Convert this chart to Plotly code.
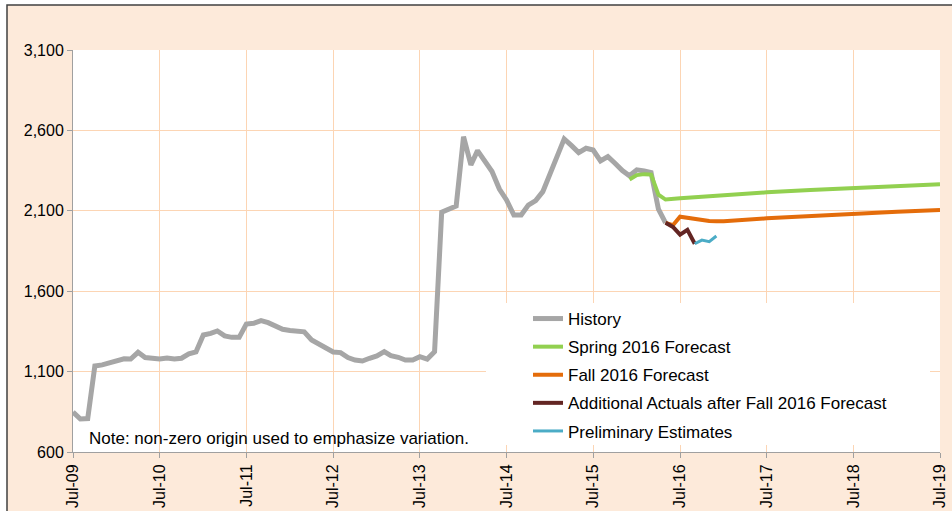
import plotly.graph_objects as go

# monthly history, Jul-2009 .. May-2016
history = [
    849, 805, 808, 1135, 1142, 1152, 1168, 1180, 1178, 1220, 1187, 1180,
    1178, 1185, 1178, 1183, 1210, 1222, 1328, 1338, 1353, 1322, 1313, 1313,
    1396, 1400, 1417, 1404, 1382, 1363, 1356, 1355, 1347, 1297, 1272, 1250,
    1222, 1218, 1187, 1172, 1166, 1183, 1198, 1224, 1199, 1189, 1172, 1172,
    1193, 1178, 1224, 2092, 2110, 2130, 2561, 2385, 2474, 2406, 2344, 2235,
    2168, 2074, 2074, 2136, 2163, 2219, 2333, 2440, 2547, 2505, 2462, 2489,
    2478, 2410, 2437, 2396, 2350, 2318, 2355, 2348, 2338, 2110, 2025,
]

spring_dates = ["2015-12-01", "2016-01-01", "2016-02-01", "2016-03-01", "2016-04-01",
                "2016-05-01", "2016-07-01", "2017-01-01", "2017-07-01", "2018-01-01",
                "2018-07-01", "2019-01-01", "2019-07-01"]
spring = [2295, 2322, 2328, 2325, 2200, 2170, 2178, 2198, 2215, 2229, 2240, 2251, 2265]

fall_dates = ["2016-05-01", "2016-06-01", "2016-07-01", "2016-08-01", "2016-09-01",
              "2016-10-01", "2016-11-01", "2016-12-01", "2017-01-01", "2017-07-01",
              "2018-01-01", "2018-07-01", "2019-01-01", "2019-07-01"]
fall = [2025, 2010, 2063, 2055, 2047, 2041, 2037, 2035, 2035, 2053, 2068, 2083, 2094, 2105]

actual_dates = ["2016-05-01", "2016-06-01", "2016-07-01", "2016-08-01", "2016-09-01"]
actuals = [2025, 2000, 1952, 1982, 1895]

prelim_dates = ["2016-09-01", "2016-10-01", "2016-11-01", "2016-12-01"]
prelim = [1895, 1918, 1908, 1943]

y_ticks = [600, 1100, 1600, 2100, 2600, 3100]

# monthly dates for the history series
hist_dates = []
yr, mo = 2009, 7
for _ in history:
    hist_dates.append(f"{yr}-{mo:02d}-01")
    mo += 1
    if mo > 12:
        mo, yr = 1, yr + 1

PEACH = "#FDEADA"
GRID = "#FCD5B4"
AXIS = "#A0A0A0"
FONT = "Liberation Sans, Arial, sans-serif"

series = [
    ("History", hist_dates, history, "#A6A6A6", 5),
    ("Spring 2016 Forecast", spring_dates, spring, "#92D050", 4),
    ("Fall 2016 Forecast", fall_dates, fall, "#E46C0A", 4),
    ("Additional Actuals after Fall 2016 Forecast", actual_dates, actuals, "#632523", 4),
    ("Preliminary Estimates", prelim_dates, prelim, "#4BACC6", 3),
]

fig = go.Figure()
for i, (name, xs, ys, col, w) in enumerate(series):
    fig.add_trace(go.Scatter(
        x=xs, y=ys, name=name, mode="lines", legendgroup=str(i),
        line=dict(color=col, width=w),
    ))

W, H = 952, 511
X0, X1, Y0, Y1 = 73, 940, 50, 452   # plot area in pixels
L, R, T, B = X0, W - X1, Y0, H - Y1


def px(x):
    return (x - X0) / (X1 - X0)


def py(y):
    return (Y1 - y) / (Y1 - Y0)


shapes = [
    # outer peach panel with dark frame
    dict(type="rect", xref="paper", yref="paper", layer="below",
         x0=px(7), x1=px(970), y0=py(530), y1=py(5),
         fillcolor=PEACH, line=dict(color="#404040", width=1.5)),
    # white plot area
    dict(type="rect", xref="paper", yref="paper", layer="below",
         x0=0, x1=1, y0=0, y1=1, fillcolor="white", line=dict(width=0)),
    # legend box
    dict(type="rect", xref="paper", yref="paper", layer="above",
         x0=px(486), x1=px(930), y0=py(445), y1=py(303),
         fillcolor="white", line=dict(width=0)),
]

fig.update_layout(
    width=W, height=H,
    margin=dict(l=L, r=R, t=T, b=B),
    paper_bgcolor="white",
    plot_bgcolor="rgba(0,0,0,0)",
    font=dict(family=FONT, size=16, color="black"),
    shapes=shapes,
    showlegend=True,
    legend=dict(
        x=px(528), y=py(301), xanchor="left", yanchor="top",
        bgcolor="rgba(0,0,0,0)", traceorder="grouped", tracegroupgap=3,
        font=dict(size=17), itemwidth=30,
    ),
    annotations=[dict(
        text="Note: non-zero origin used to emphasize variation.",
        xref="paper", yref="paper", x=px(87), y=py(438),
        xanchor="left", yanchor="middle", showarrow=False,
        font=dict(size=17),
    )],
    xaxis=dict(
        range=["2009-07-01", "2019-07-01"], automargin=False,
        tick0="2009-07-01", dtick="M12", tickformat="%b-%y",
        tickangle=-90, showgrid=True, gridcolor=GRID, gridwidth=1,
        showline=True, linecolor=AXIS, linewidth=1,
        ticks="outside", ticklen=5, tickcolor=AXIS, zeroline=False,
        tickfont=dict(size=16),
    ),
    yaxis=dict(
        range=[600, 3100], tickvals=y_ticks, tickformat=",", automargin=False,
        showgrid=True, gridcolor=GRID, gridwidth=1,
        showline=True, linecolor=AXIS, linewidth=1,
        ticks="outside", ticklen=5, tickcolor=AXIS, zeroline=False,
        tickfont=dict(size=16),
    ),
)

# drop the default body margin so the figure fills the window exactly
fig.write_html("out.html", config={"displayModeBar": False},
               post_script="document.body.style.margin='0';")
